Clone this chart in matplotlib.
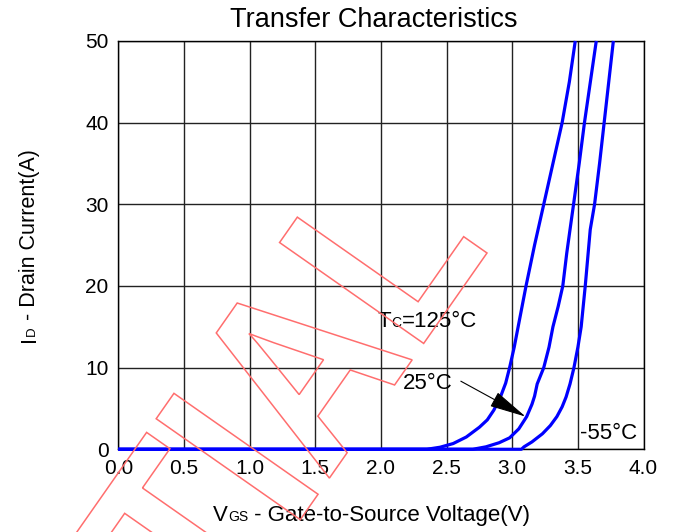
import numpy as np
import matplotlib.pyplot as plt
from matplotlib.textpath import TextPath
from matplotlib.patches import PathPatch
from matplotlib.font_manager import FontProperties
from matplotlib.transforms import Affine2D, IdentityTransform

plt.rcParams['font.family'] = ['Liberation Sans', 'DejaVu Sans']

# data (VGS in V, ID in A)
vgs_125 = [0.0, 2.35, 2.45, 2.55, 2.65, 2.75, 2.81, 2.86, 2.91, 2.95, 2.98, 3.015, 3.045, 3.075,
           3.105, 3.17, 3.24, 3.31, 3.38, 3.435, 3.48]
id_125 = [0.0, 0.0, 0.25, 0.7, 1.5, 2.7, 3.6, 4.8, 6.4, 8.1, 10.0, 12.5, 15.0, 17.5,
          20.0, 25.0, 30.0, 35.0, 40.0, 45.0, 50.0]

vgs_25 = [0.0, 2.70, 2.80, 2.90, 2.98, 3.05, 3.11, 3.15, 3.17, 3.19, 3.24, 3.28, 3.31, 3.35,
          3.385, 3.415, 3.44, 3.467, 3.51, 3.55, 3.595, 3.64]
id_25 = [0.0, 0.0, 0.3, 0.8, 1.4, 2.5, 4.0, 5.5, 6.5, 8.0, 10.0, 12.5, 15.0, 17.5,
         20.0, 24.0, 26.9, 30.0, 35.0, 40.0, 45.0, 50.0]

vgs_m55 = [0.0, 3.07, 3.09, 3.15, 3.23, 3.29, 3.34, 3.38, 3.41, 3.44, 3.47, 3.50, 3.525, 3.556,
           3.594, 3.627, 3.665, 3.70, 3.735, 3.77]
id_m55 = [0.0, 0.0, 0.3, 0.9, 1.9, 2.9, 4.0, 5.2, 6.4, 8.0, 10.0, 12.5, 15.0, 20.0,
          26.9, 30.0, 35.0, 40.0, 45.0, 50.0]

x_ticks = [0.0, 0.5, 1.0, 1.5, 2.0, 2.5, 3.0, 3.5, 4.0]
y_ticks = [0, 10, 20, 30, 40, 50]

W, H = 676, 532
fig = plt.figure(figsize=(W / 100, H / 100), dpi=100)
ax = fig.add_axes([0.175, 0.1555, 0.777, 0.7675])
renderer = fig.canvas.get_renderer()

blue = '#0000ff'
for v, i in [(vgs_125, id_125), (vgs_25, id_25), (vgs_m55, id_m55)]:
    ax.plot(v, i, color=blue, lw=2.3, solid_capstyle='butt', solid_joinstyle='round',
            zorder=3, clip_on=False)

ax.set_xlim(0, 4)
ax.set_ylim(0, 50)
ax.set_xticks(x_ticks)
ax.set_xticklabels([f'{t:.1f}' for t in x_ticks])
ax.set_yticks(y_ticks)
ax.tick_params(length=0, labelsize=15, pad=7)
ax.grid(True, color='#222222', lw=1.0)
for s in ax.spines.values():
    s.set_color('black')
    s.set_linewidth(1.0)


def chain(x0, y0, pieces, rotation=0):
    """write pieces one after another on a common baseline, start at pixel (x0, y0 from top)"""
    x, y = x0, H - y0
    for txt, size in pieces:
        t = fig.text(x / W, y / H, txt, fontsize=size, ha='left', va='baseline',
                     rotation=rotation, rotation_mode='anchor')
        bb = t.get_window_extent(renderer)
        if rotation == 90:
            y += bb.height
        else:
            x += bb.width


fig.text(374 / W, 1 - 27 / H, 'Transfer Characteristics', fontsize=19.5,
         ha='center', va='baseline')
chain(213, 521, [('V', 16), ('GS', 10), (' - Gate-to-Source Voltage(V)', 16)])
chain(35, 342, [('I', 15.5), ('D', 9.5), (' - Drain Current(A)', 15.5)], rotation=90)

# temperature labels
chain(378, 327, [('T', 16), ('C', 10), ('=125°C', 16)])
ax.text(2.17, 8.1, '25°C', fontsize=16, va='center')
ax.text(3.515, 1.9, '-55°C', fontsize=16, va='center')
ax.annotate('', xy=(3.12, 3.84), xytext=(2.59, 8.5),
            arrowprops=dict(arrowstyle='-|>,head_length=1.3,head_width=0.28',
                            color='black', lw=0.8, mutation_scale=18))

# watermark, outlined letters
tp = TextPath((0, 0), 'CONFIDENTIAL', size=239,
              prop=FontProperties(family='Liberation Sans', weight='bold'))
xmax = tp.get_extents().x1
tr = (Affine2D().translate(-xmax, 0).scale(0.90, 1.07).rotate_deg(55)
      .translate(487, H - 253))
wm = PathPatch(tr.transform_path(tp), facecolor='none', edgecolor='#ff6e6e',
               lw=1.1, transform=IdentityTransform(), zorder=10)
fig.add_artist(wm)

plt.savefig('out.png', dpi=100)
